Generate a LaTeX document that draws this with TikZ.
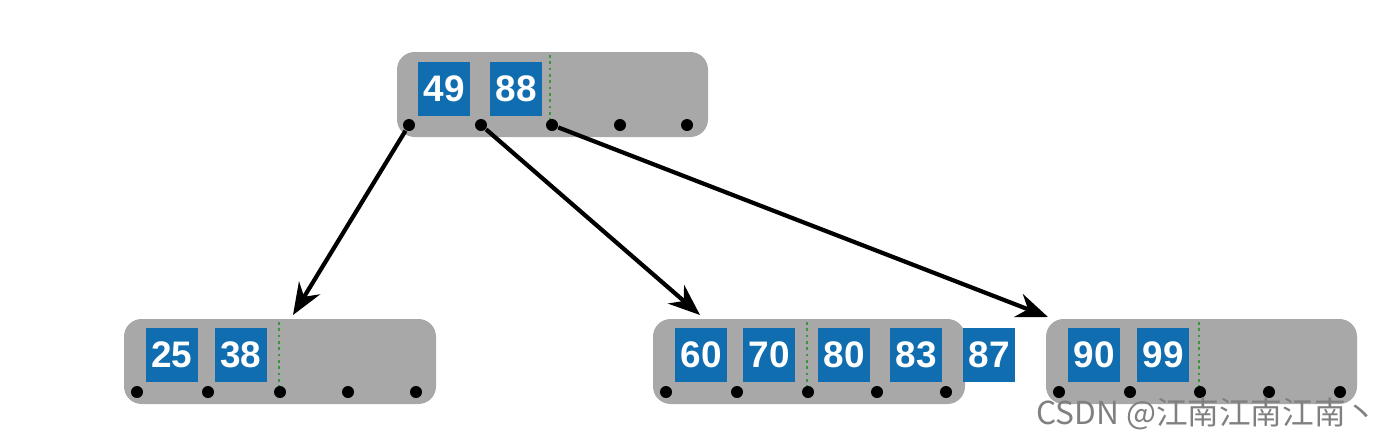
\documentclass[tikz,border=0pt]{standalone}
\usepackage{fontspec}
\setmainfont{Liberation Sans}
\newfontfamily\cjk{Noto Sans CJK SC}
\usetikzlibrary{arrows.meta,positioning}
\definecolor{keyblue}{RGB}{16,110,176}
\definecolor{pagegray}{RGB}{168,168,168}
\definecolor{ptrgreen}{RGB}{60,150,60}

\begin{document}
\begin{tikzpicture}[x=0.01cm,y=-0.01cm]
  \tikzstyle{page} = [fill=pagegray,rounded corners=5pt]
  \tikzstyle{key} = [fill=keyblue,text=white,minimum width=0.52cm,minimum height=0.54cm,inner sep=0pt,font=\fontsize{10.5}{12}\selectfont\bfseries]
  \tikzstyle{ptr} = [circle,fill=black,inner sep=0pt,minimum size=0.12cm]
  \tikzstyle{arrow} = [very thick,-{Stealth[length=9pt,width=7pt]}]
  \tikzstyle{sep} = [ptrgreen,densely dotted,thick]
  \useasboundingbox (0,0) rectangle (1400,433);
  % pages
  \fill[page] (397,52) rectangle (708,137);
  \fill[page] (124,319) rectangle (436,404);
  \fill[page] (653,319) rectangle (965,404);
  \fill[page] (1046,319) rectangle (1357,404);
  % separators
  \draw[sep] (550,55) -- (550,125);
  \draw[sep] (279,322) -- (279,392);
  \draw[sep] (807,322) -- (807,392);
  \draw[sep] (1199,322) -- (1199,392);
  % keys
  \foreach \k/\x/\y in {49/444/89, 88/516/89, 25/172/355, 38/241/355,
    60/701/355, 70/769/355, 80/844/355, 83/916/355, 87/989/355,
    90/1094/355, 99/1163/355}
    \node (k\k) [key] at (\x,\y) {\k};
  % pointers
  \foreach \x [count=\i] in {409,481,552,620,687}
    \node (r\i) [ptr] at (\x,125) {};
  \foreach \x [count=\i] in {137,208,280,348,416}
    \node (a\i) [ptr] at (\x,392) {};
  \foreach \x [count=\i] in {666,737,808,877,946}
    \node (b\i) [ptr] at (\x,392) {};
  \foreach \x [count=\i] in {1059,1130,1200,1269,1340}
    \node (c\i) [ptr] at (\x,392) {};
  \coordinate (ta) at (293,315);
  \coordinate (tb) at (700,315);
  \coordinate (tc) at (1048,317);
  \draw [arrow] (r1) -- (ta);
  \draw [arrow] (r2) -- (tb);
  \draw [arrow] (r3) -- (tc);
  \node (mark) [anchor=east,text=gray,font=\cjk\fontsize{9}{10}\selectfont] at (1390,414) {CSDN @江南江南江南丶};
\end{tikzpicture}
\end{document}
